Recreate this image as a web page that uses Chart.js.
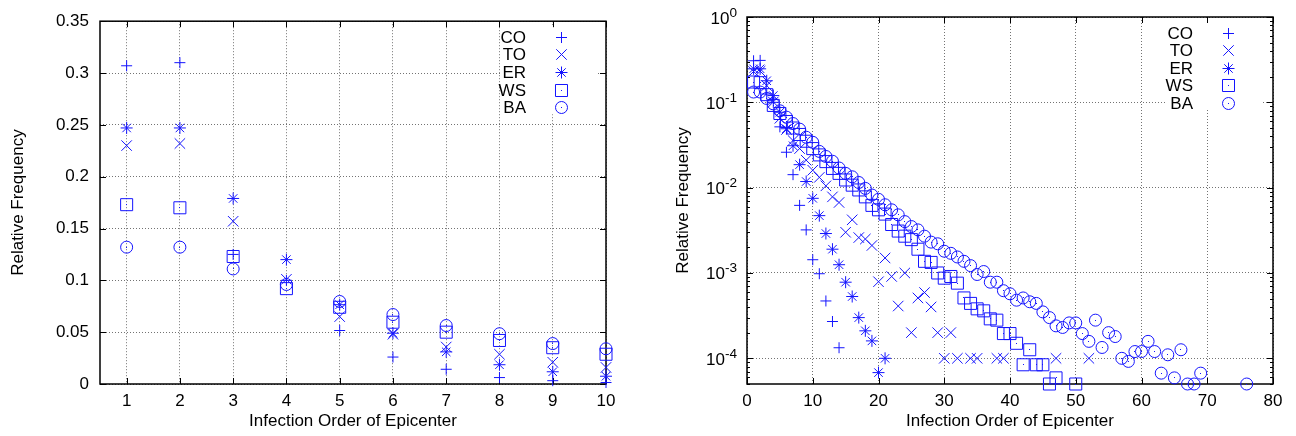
<!DOCTYPE html>
<html>
<head>
<meta charset="utf-8">
<script src="https://cdn.jsdelivr.net/npm/chart.js@4.4.1/dist/chart.umd.min.js"></script>
<style>
  html, body { margin: 0; padding: 0; background: #fff; }
  #contenedor { position: relative; width: 1296px; height: 436px; }
  #contenedor canvas { position: absolute; top: 0; }
  #grafico-lineal { left: 0; }
  #grafico-log { left: 648px; }
</style>
</head>
<body>
<div id="contenedor">
  <canvas id="grafico-lineal" width="648" height="436"></canvas>
  <canvas id="grafico-log" width="648" height="436"></canvas>
</div>
<script>
// Nombres de los modelos de red (orden de la leyenda)
const nombresSeries = ['CO', 'TO', 'ER', 'WS', 'BA'];

// Frecuencia relativa por orden de infección del epicentro (posición 0 = orden 1, null = sin casos)
const freqCO = [0.307, 0.310, 0.125, 0.100, 0.0516, 0.026, 0.0142, 0.0062, 0.0032, 0.00143,
  0.00098, 0.00047, 0.00027, 0.000133];
const freqTO = [0.230, 0.232, 0.157, 0.101, 0.065, 0.048, 0.0357, 0.0287, 0.021, 0.0160,
  0.0132, 0.0105, 0.0078, 0.0067, 0.0030, 0.0042, 0.0026, 0.0025, 0.0021, 0.00079,
  0.0015, 0.00091, 0.00041, 0.0010, 0.0002, 0.00051, 0.00059, 0.0004, 0.0002, 0.0001,
  0.0002, 0.0001, null, 0.0001, 0.0001, null, null, 0.0001, 0.0001, null,
  null, null, null, null, null, null, 0.0001, null, null, null,
  null, 0.0001];
const freqER = [0.247, 0.247, 0.179, 0.120, 0.0765, 0.049, 0.031, 0.0186, 0.0118, 0.0075,
  0.0047, 0.0029, 0.0019, 0.00125, 0.00078, 0.00053, 0.0003, 0.00021, 0.00016, 0.000068,
  0.0001];
const freqWS = [0.173, 0.170, 0.123, 0.092, 0.074, 0.0596, 0.050, 0.042, 0.035, 0.0287,
  0.0242, 0.0202, 0.0168, 0.0147, 0.0123, 0.0107, 0.0094, 0.0078, 0.0062, 0.0055,
  0.0049, 0.0037, 0.0031, 0.0027, 0.00246, 0.0019, 0.00137, 0.00133, 0.0010, 0.00087,
  0.00091, 0.00076, 0.00051, 0.00044, 0.00038, 0.00036, 0.00029, 0.00028, 0.000195, 0.000195,
  0.00015, 0.000084, 0.000126, 0.000084, 0.000084, 0.00005, 0.000059, null, null, 0.00005];
const freqBA = [0.132, 0.132, 0.111, 0.096, 0.0796, 0.067, 0.0564, 0.0485, 0.039, 0.034,
  0.0266, 0.0232, 0.0204, 0.017, 0.0147, 0.0134, 0.0115, 0.0098, 0.0082, 0.0073,
  0.0063, 0.0055, 0.0048, 0.0040, 0.0035, 0.0032, 0.0027, 0.0023, 0.0022, 0.0018,
  0.0017, 0.00154, 0.00137, 0.00122, 0.00096, 0.00104, 0.00078, 0.00078, 0.00062, 0.00057,
  0.00048, 0.00051, 0.00046, 0.00044, 0.00035, 0.00030, 0.00024, 0.00023, 0.00026, 0.00026,
  0.000195, 0.000158, 0.00028, 0.000134, 0.0002, 0.00018, 0.0001, 0.000092, 0.00012, 0.00012,
  0.000158, 0.00012, 0.000067, 0.00011, 0.000059, 0.000126, 0.00005, 0.00005, 0.000067, null,
  null, null, null, null, null, 0.00005];

// Marcas de los ejes
const ticksXLineal = [1, 2, 3, 4, 5, 6, 7, 8, 9, 10];
const ticksYLineal = [0, 0.05, 0.1, 0.15, 0.2, 0.25, 0.3, 0.35];
const ticksXLog = [0, 10, 20, 30, 40, 50, 60, 70, 80];
const ticksYLog = [1e-4, 1e-3, 1e-2, 1e-1, 1];

const azul = 'rgb(20,20,255)';
const fuente = "'Liberation Sans', Arial, sans-serif";
Chart.defaults.font.family = fuente;
Chart.defaults.font.size = 17;
Chart.defaults.color = '#000';

// Símbolos estilo gnuplot: +, x, *, cuadro y círculo (radio según el dibujo de Chart.js)
const valoresSeries = [freqCO, freqTO, freqER, freqWS, freqBA];
const estilos = ['cross', 'crossRot', 'star', 'rect', 'circle'];
const radios = [5.5, 7.4, 6, 8.5, 6];

function construirSeries(maxOrden) {
    return nombresSeries.map((nombre, i) => ({
        label: nombre,
        data: valoresSeries[i]
            .map((v, k) => ({ x: k + 1, y: v }))
            .filter(p => p.y !== null && p.x <= maxOrden),
        showLine: false,
        pointStyle: estilos[i],
        pointRadius: radios[i],
        pointBorderWidth: 1,
        borderColor: azul,
        backgroundColor: 'rgba(0,0,0,0)',
        clip: false
    }));
}

// Marco negro, fondo de la leyenda y marcas hacia dentro en los cuatro lados
const marcoGnuplot = {
    id: 'marcoGnuplot',
    beforeDatasetsDraw(chart, args, opts) {
        const { ctx, chartArea: a, scales: { x, y } } = chart;
        ctx.save();
        ctx.fillStyle = '#fff';
        ctx.fillRect(a.right - 106, a.top + 4, 96, 89);
        ctx.strokeStyle = '#000';
        ctx.lineWidth = 1;
        ctx.beginPath();
        x.ticks.forEach(t => {
            const px = Math.round(x.getPixelForValue(t.value)) + 0.5;
            ctx.moveTo(px, a.bottom); ctx.lineTo(px, a.bottom - 6);
            ctx.moveTo(px, a.top); ctx.lineTo(px, a.top + 6);
        });
        const marcas = y.ticks.map(t => ({ v: t.value, largo: 6 }))
            .concat((opts.menores || []).map(v => ({ v, largo: 3 })));
        marcas.forEach(mk => {
            const py = Math.round(y.getPixelForValue(mk.v)) + 0.5;
            ctx.moveTo(a.left, py); ctx.lineTo(a.left + mk.largo, py);
            ctx.moveTo(a.right, py); ctx.lineTo(a.right - mk.largo, py);
        });
        ctx.stroke();
        ctx.lineWidth = 1.5;
        ctx.strokeRect(a.left, a.top, a.right - a.left, a.bottom - a.top);
        ctx.restore();
    }
};

// Punto central de los cuadros y círculos
const puntoCentral = {
    id: 'puntoCentral',
    afterDatasetsDraw(chart) {
        const ctx = chart.ctx;
        ctx.save();
        ctx.fillStyle = azul;
        chart.data.datasets.forEach((ds, i) => {
            if (ds.pointStyle !== 'rect' && ds.pointStyle !== 'circle') return;
            chart.getDatasetMeta(i).data.forEach(el => {
                ctx.fillRect(Math.round(el.x - 0.5), Math.round(el.y - 0.5), 1, 1);
            });
        });
        ctx.restore();
    }
};

// Dibuja el símbolo de una serie en la leyenda (mismo tamaño que en el gráfico)
function simboloLeyenda(ctx, estilo, r, x, y) {
    ctx.beginPath();
    if (estilo === 'cross' || estilo === 'star') {
        ctx.moveTo(x - r, y); ctx.lineTo(x + r, y);
        ctx.moveTo(x, y - r); ctx.lineTo(x, y + r);
    }
    if (estilo === 'crossRot' || estilo === 'star') {
        const d = r * Math.SQRT1_2;
        ctx.moveTo(x - d, y - d); ctx.lineTo(x + d, y + d);
        ctx.moveTo(x - d, y + d); ctx.lineTo(x + d, y - d);
    }
    if (estilo === 'rect') {
        const s = r * Math.SQRT1_2;
        ctx.rect(x - s, y - s, 2 * s, 2 * s);
    }
    if (estilo === 'circle') {
        ctx.arc(x, y, r, 0, Math.PI * 2);
    }
    ctx.strokeStyle = azul;
    ctx.lineWidth = 1;
    ctx.stroke();
    if (estilo === 'rect' || estilo === 'circle') {
        ctx.fillStyle = azul;
        ctx.fillRect(Math.round(x - 0.5), Math.round(y - 0.5), 1, 1);
    }
}

// Leyenda: texto alineado a la derecha y el símbolo a su lado
const leyendaGnuplot = {
    id: 'leyendaGnuplot',
    afterDatasetsDraw(chart) {
        const { ctx, chartArea: a } = chart;
        ctx.save();
        ctx.font = '17px ' + fuente;
        ctx.textAlign = 'right';
        ctx.textBaseline = 'middle';
        chart.data.datasets.forEach((ds, i) => {
            const yy = Math.round(a.top + 15.5 + i * 17.6) + 0.5;
            ctx.fillStyle = '#000';
            ctx.fillText(ds.label, a.right - 80, yy + 0.5);
            simboloLeyenda(ctx, ds.pointStyle, ds.pointRadius, a.right - 44.5, yy);
        });
        ctx.restore();
    }
};

// Etiquetas 10^n del eje logarítmico con exponente elevado
const etiquetasPotencia = {
    id: 'etiquetasPotencia',
    afterDraw(chart) {
        const { ctx, chartArea: a, scales: { y } } = chart;
        const fBase = '17px ' + fuente;
        const fExp = '13.6px ' + fuente;
        ctx.save();
        ctx.fillStyle = '#000';
        ctx.textAlign = 'left';
        ctx.textBaseline = 'alphabetic';
        y.ticks.forEach(t => {
            const exp = String(Math.round(Math.log10(t.value)));
            const py = y.getPixelForValue(t.value);
            ctx.font = fBase;
            const wBase = ctx.measureText('10').width;
            ctx.font = fExp;
            const wExp = ctx.measureText(exp).width;
            const x0 = a.left - 10 - wBase - wExp;
            ctx.font = fBase;
            ctx.fillText('10', x0, py + 6.5);
            ctx.font = fExp;
            ctx.fillText(exp, x0 + wBase, py - 0.5);
        });
        ctx.restore();
    }
};

// Configuración común de ejes (rejilla punteada, sin marcas externas)
const rejilla = { color: 'rgba(0,0,0,0.55)', lineWidth: 1, drawTicks: false };
const bordeEje = { display: false, dash: [1, 2] };

const opcionesComunes = {
    responsive: false,
    animation: false,
    events: [],
    plugins: {
        legend: { display: false },
        tooltip: { enabled: false }
    }
};

function tituloX() {
    return { display: true, text: 'Infection Order of Epicenter', padding: { top: 0, bottom: 4 } };
}

// 1. Escala lineal, órdenes 1 a 10
new Chart(document.getElementById('grafico-lineal'), {
    type: 'scatter',
    data: { datasets: construirSeries(10) },
    options: {
        ...opcionesComunes,
        layout: { padding: { left: 0, right: 42, top: 17, bottom: 0 } },
        scales: {
            x: {
                type: 'linear',
                min: 0.5,
                max: 10,
                afterBuildTicks: s => { s.ticks = ticksXLineal.map(v => ({ value: v })); },
                afterFit: s => { s.height = 52; },
                grid: rejilla,
                border: bordeEje,
                ticks: { padding: 7, callback: v => String(v) },
                title: tituloX()
            },
            y: {
                type: 'linear',
                min: 0,
                max: 0.35,
                afterBuildTicks: s => { s.ticks = ticksYLineal.map(v => ({ value: v })); },
                afterFit: s => { s.width = 100; },
                grid: rejilla,
                border: bordeEje,
                ticks: { padding: 11, callback: v => String(v) },
                title: { display: true, text: 'Relative Frequency', padding: { top: 8, bottom: 0 } }
            }
        }
    },
    plugins: [marcoGnuplot, puntoCentral, leyendaGnuplot]
});

// Marcas menores del eje logarítmico (2..9 por década)
const menoresLog = [];
for (let d = -5; d < 0; d++) {
    for (let k = 2; k <= 9; k++) {
        const v = k * Math.pow(10, d);
        if (v >= 5e-5 && v < 1) menoresLog.push(v);
    }
}

// 2. Escala logarítmica, todos los órdenes
new Chart(document.getElementById('grafico-log'), {
    type: 'scatter',
    data: { datasets: construirSeries(100) },
    options: {
        ...opcionesComunes,
        plugins: {
            ...opcionesComunes.plugins,
            marcoGnuplot: { menores: menoresLog }
        },
        layout: { padding: { left: 0, right: 23, top: 17, bottom: 0 } },
        scales: {
            x: {
                type: 'linear',
                min: 0,
                max: 80,
                afterBuildTicks: s => { s.ticks = ticksXLog.map(v => ({ value: v })); },
                afterFit: s => { s.height = 52; },
                grid: rejilla,
                border: bordeEje,
                ticks: { padding: 7, callback: v => String(v) },
                title: tituloX()
            },
            y: {
                type: 'logarithmic',
                min: 5e-5,
                max: 1,
                afterBuildTicks: s => { s.ticks = ticksYLog.map(v => ({ value: v })); },
                afterFit: s => { s.width = 99; },
                grid: rejilla,
                border: bordeEje,
                ticks: { display: false },
                title: { display: true, text: 'Relative Frequency', padding: { top: 25, bottom: 0 } }
            }
        }
    },
    plugins: [marcoGnuplot, puntoCentral, leyendaGnuplot, etiquetasPotencia]
});
</script>
</body>
</html>
